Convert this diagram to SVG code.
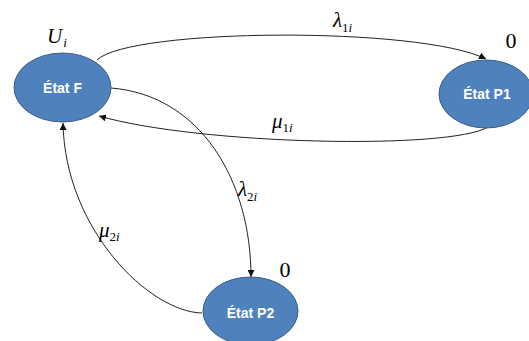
<svg xmlns="http://www.w3.org/2000/svg" width="529" height="341" viewBox="0 0 529 341">
  <style>
    .state { fill: #4f81bd; stroke: #385d8a; stroke-width: 1; }
    .state-label { font-family: "Liberation Sans", Arial, sans-serif; font-weight: bold; font-size: 14px; fill: #ffffff; text-anchor: middle; }
    .edge { fill: none; stroke: #222222; stroke-width: 1; marker-end: url(#arrow); }
    .math { font-family: "Liberation Serif", "Times New Roman", serif; fill: #000000; }
    .sym { font-style: italic; font-size: 21px; }
    .sub { font-size: 13px; }
    .it { font-style: italic; }
    .num { font-size: 22px; }
  </style>
  <defs>
    <marker id="arrow" viewBox="0 0 10 10" refX="10" refY="5" markerWidth="7" markerHeight="7" markerUnits="userSpaceOnUse" orient="auto">
      <path d="M0,0 L10,5 L0,10 z" fill="#111111"/>
    </marker>
  </defs>

  <!-- transitions -->
  <g id="connectors">
    <!-- F to P1 -->
    <path class="edge" d="M97,60 C130,28 420,26 486,59"/>
    <!-- P1 back to F -->
    <path class="edge" d="M488,127 C450,150 200,145 99,116"/>
    <!-- F to P2 -->
    <path class="edge" d="M111,88 C200,95 251,180 251,277"/>
    <!-- P2 back to F -->
    <path class="edge" d="M202,313 C150,312 65,230 63,123"/>
  </g>

  <g id="state-F">
    <ellipse class="state" cx="62.5" cy="87.5" rx="48.5" ry="34.5"/>
    <text class="state-label" x="62.5" y="92.5">État F</text>
    <text class="math" x="47" y="43"><tspan class="sym" font-size="22">U</tspan><tspan class="sub it" dx="1" dy="4">i</tspan></text>
  </g>

  <g id="state-P1">
    <ellipse class="state" cx="486" cy="94" rx="47" ry="34"/>
    <text class="state-label" x="487" y="99">État P1</text>
    <text class="math num" x="511" y="48" text-anchor="middle">0</text>
  </g>

  <g id="state-P2">
    <ellipse class="state" cx="250.5" cy="311" rx="47.5" ry="34"/>
    <text class="state-label" x="250.5" y="318">État P2</text>
    <text class="math num" x="285" y="277" text-anchor="middle">0</text>
  </g>

  <!-- transition rates -->
  <g id="rates">
    <text class="math" x="333" y="27"><tspan class="sym">λ</tspan><tspan class="sub" dy="5">1</tspan><tspan class="sub it">i</tspan></text>
    <text class="math" x="272" y="128"><tspan class="sym">μ</tspan><tspan class="sub" dy="4">1</tspan><tspan class="sub it">i</tspan></text>
    <text class="math" x="238" y="196"><tspan class="sym">λ</tspan><tspan class="sub" dy="5">2</tspan><tspan class="sub it">i</tspan></text>
    <text class="math" x="99" y="237"><tspan class="sym">μ</tspan><tspan class="sub" dy="4">2</tspan><tspan class="sub it">i</tspan></text>
  </g>
</svg>
